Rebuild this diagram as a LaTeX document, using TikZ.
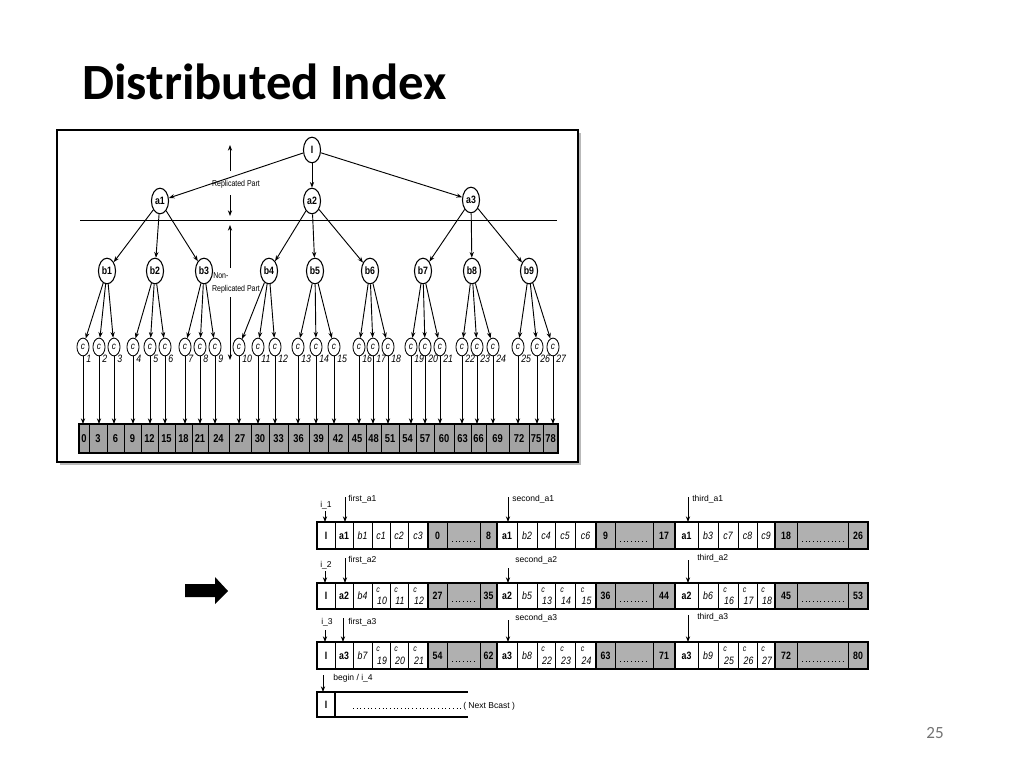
\documentclass[tikz,border=0pt]{standalone}
\usepackage{fontspec}
\setmainfont{Liberation Sans}
\newfontfamily\titlefont{Carlito}
\newfontfamily\hv[FakeStretch=0.82]{Liberation Sans}
\usetikzlibrary{shapes.geometric,arrows.meta}
\tikzset{
 tn/.style={ellipse,draw,line width=0.75pt,minimum width=12pt,minimum height=18pt,inner sep=0pt,font=\hv\bfseries\fontsize{7.5}{8}\selectfont},
 cn/.style={ellipse,draw,line width=0.6pt,minimum width=8.5pt,minimum height=12.5pt,inner sep=0pt,font=\hv\itshape\fontsize{7}{7}\selectfont},
 ed/.style={line width=0.65pt,-{Stealth[length=4pt,width=3pt]}},
 nlab/.style={font=\hv\itshape\fontsize{7.5}{8}\selectfont,anchor=west,inner sep=0pt},
 leaf/.style={draw,line width=0.5pt,fill=gray!72,inner sep=0pt,outer sep=0pt,font=\hv\bfseries\fontsize{8}{8}\selectfont},
 wc/.style={draw,line width=0.5pt,fill=white,inner sep=0pt,outer sep=0pt},
 gc/.style={draw,line width=0.5pt,fill=gray!62,inner sep=0pt,outer sep=0pt},
 bfont/.style={font=\hv\bfseries\fontsize{7.5}{8}\selectfont},
 ifont/.style={font=\hv\itshape\fontsize{7.5}{8}\selectfont},
 sfont/.style={font=\hv\fontsize{6}{7}\selectfont,inner sep=0pt},
 slab/.style={font=\fontsize{6}{7}\selectfont,inner sep=0pt,anchor=west},
}
\newcommand\mycell[7]{%
 \node[#6,minimum width={(#3-#2)*0.703pt},minimum height={(#5-#4)*0.703pt}] (#1) at ({(#2+#3)/2},{(#4+#5)/2}) {#7};}
\newcommand\ccell[6]{%
 \ifnum\r=1
  \mycell{#1}{#2}{#3}{#4}{#5}{wc,ifont}{c#6}%
 \else
  \mycell{#1}{#2}{#3}{#4}{#5}{wc}{}%
  \node[font=\hv\itshape\fontsize{6}{6}\selectfont,inner sep=0pt] (#1c) at ({(#2+#3)/2-3},{#4+7}) {c};
  \node[ifont,inner sep=0pt] (#1n) at ({(#2+#3)/2+1},{#5-8}) {#6};
 \fi}
\begin{document}
\begin{tikzpicture}[x=0.703pt,y=-0.703pt]
\useasboundingbox (0,0) rectangle (1024,768);
\fill[white] (0,0) rectangle (1024,768);
\node[anchor=base west,inner sep=0pt,font=\titlefont\bfseries\fontsize{35.7}{40}\selectfont] (title) at (82,99) {Distributed Index};
\node[font=\titlefont\fontsize{12}{14}\selectfont,text=black!55,inner sep=0pt] (pg) at (935,733) {25};

% frame
\fill[gray!55] (60,133) rectangle (581,465);
\draw[line width=1pt,fill=white] (57,130) rectangle (578,462);

% tree
\node[tn] (I) at (312,150) {I};
\node[tn] (a1) at (160,201) {a1};
\node[tn] (a2) at (312,201) {a2};
\node[tn] (a3) at (471,200) {a3};
\foreach \k in {1,2,3} \draw[ed] (I) -- (a\k);
\draw[line width=0.6pt] (80,220) -- (557,220);

\foreach \k/\x in {1/107,2/155,3/204,4/269,5/315,6/370,7/423,8/472,9/529}{
  \pgfmathtruncatemacro\p{int((\k+2)/3)}
  \node[tn] (b\k) at (\x,271) {b\k};
  \draw[ed] (a\p) -- (b\k);
}
\foreach \k/\x/\xa/\xb in {1/83/79/89,2/99/89/107,3/114/107/124,4/133/124/141,5/150/141/158,6/165/158/175,7/185/175/192,8/200/192/208,9/215/208/229,10/239/229/251,11/258/251/269,12/275/269/288,13/298/288/309,14/316/309/328,15/334/328/348,16/359/348/366,17/373/366/381,18/388/381/399,19/411/399/416,20/425/416/434,21/440/434/454,22/462/454/471,23/477/471/486,24/493/486/509,25/518/509/529,26/537/529/543,27/553/543/558}{
  \pgfmathtruncatemacro\p{int((\k+2)/3)}
  \pgfmathtruncatemacro\v{3*(\k-1)}
  \node[cn] (c\k) at (\x,347) {c};
  \node[nlab] (n\k) at (\x+3,359) {\k};
  \draw[ed] (b\p) -- (c\k);
  \mycell{l\k}{\xa}{\xb}{424}{453}{leaf}{\v}
  \draw[ed] (c\k) -- (c\k |- l\k.north);
}
\draw[line width=1pt] (79,424) rectangle (558,453);

% replicated / non-replicated marks
\coordinate (m1) at (230,171); \coordinate (m1t) at (230,145);
\draw[ed] (m1) -- (m1t);
\node[sfont] (rp) at (236,184) {Replicated Part};
\coordinate (m2) at (230,195); \coordinate (m2t) at (230,216);
\draw[ed] (m2) -- (m2t);
\coordinate (m3) at (230,268); \coordinate (m3t) at (230,225);
\draw[ed] (m3) -- (m3t);
\node[sfont,anchor=west] (non) at (213,276) {Non-};
\node[sfont] (nrp) at (236,289) {Replicated Part};
\coordinate (m4) at (230,297); \coordinate (m4t) at (230,360);
\draw[ed] (m4) -- (m4t);

% big arrow
\fill (185,584) -- (215,584) -- (215,577) -- (228,591) -- (215,604) -- (215,597) -- (185,597) -- cycle;

% broadcast rows
\foreach \r/\ya/\yb in {1/522/549,2/583/609,3/642/669}{
  \mycell{r\r i}{317}{335}{\ya}{\yb}{wc,bfont}{I}
  \foreach \g/\xa/\xb/\xc/\xd/\xe/\xf/\xg/\xh/\xi in {1/335/353/372/390/408/428/447/480/497,2/497/517/537/555/575/596/615/653/675,3/675/698/718/738/757/775/797/848/868}{
    \pgfmathtruncatemacro\bn{3*(\r-1)+\g}
    \pgfmathtruncatemacro\cA{9*(\r-1)+3*(\g-1)+1}
    \pgfmathtruncatemacro\cB{\cA+1}
    \pgfmathtruncatemacro\cC{\cA+2}
    \pgfmathtruncatemacro\gs{27*(\r-1)+9*(\g-1)}
    \pgfmathtruncatemacro\gE{\gs+8}
    \mycell{r\r a\g}{\xa}{\xb}{\ya}{\yb}{wc,bfont}{a\r}
    \mycell{r\r b\g}{\xb}{\xc}{\ya}{\yb}{wc,ifont}{b\bn}
    \ccell{r\r x\g a}{\xc}{\xd}{\ya}{\yb}{\cA}
    \ccell{r\r x\g b}{\xd}{\xe}{\ya}{\yb}{\cB}
    \ccell{r\r x\g c}{\xe}{\xf}{\ya}{\yb}{\cC}
    \mycell{r\r g\g s}{\xf}{\xg}{\ya}{\yb}{gc,bfont}{\gs}
    \mycell{r\r g\g m}{\xg}{\xh}{\ya}{\yb}{gc}{}
    \mycell{r\r g\g e}{\xh}{\xi}{\ya}{\yb}{gc,bfont}{\gE}
    \draw[dotted,line width=0.6pt] ({\xg+5},{\yb-8}) -- ({\xh-5},{\yb-8});
    \draw[line width=1.1pt] (\xf,\ya) rectangle (\xi,\yb);
  }
  \draw[line width=1.3pt] (317,\yb) -- (317,\ya) -- (868,\ya) -- (868,\yb) -- cycle;
}

% pointers row 1
\coordinate (p1i) at (325,511); \node[slab,anchor=center] (t1i) at (326,505) {i\_1};
\draw[ed] (p1i) -- (p1i |- r1i.north);
\coordinate (p1f) at (345,497); \node[slab] (t1f) at (348,499) {first\_a1};
\draw[ed] (p1f) -- (p1f |- r1a1.north);
\coordinate (p1s) at (508,497); \node[slab] (t1s) at (512,499) {second\_a1};
\draw[ed] (p1s) -- (p1s |- r1a2.north);
\coordinate (p1t) at (688,497); \node[slab] (t1t) at (692,499) {third\_a1};
\draw[ed] (p1t) -- (p1t |- r1a3.north);
% row 2
\coordinate (p2i) at (325,571); \node[slab,anchor=center] (t2i) at (326,565) {i\_2};
\draw[ed] (p2i) -- (p2i |- r2i.north);
\coordinate (p2f) at (345,558); \node[slab] (t2f) at (348,560) {first\_a2};
\draw[ed] (p2f) -- (p2f |- r2a1.north);
\coordinate (p2s) at (508,568); \node[slab] (t2s) at (515,560) {second\_a2};
\draw[ed] (p2s) -- (p2s |- r2a2.north);
\coordinate (p2t) at (688,560); \node[slab] (t2t) at (697,558) {third\_a2};
\draw[ed] (p2t) -- (p2t |- r2a3.north);
% row 3
\coordinate (p3i) at (325,630); \node[slab,anchor=center] (t3i) at (327,622) {i\_3};
\draw[ed] (p3i) -- (p3i |- r3i.north);
\coordinate (p3f) at (343,618); \node[slab] (t3f) at (348,622) {first\_a3};
\draw[ed] (p3f) -- (p3f |- r3a1.north);
\coordinate (p3s) at (508,620); \node[slab] (t3s) at (515,618) {second\_a3};
\draw[ed] (p3s) -- (p3s |- r3a2.north);
\coordinate (p3t) at (688,615); \node[slab] (t3t) at (697,617) {third\_a3};
\draw[ed] (p3t) -- (p3t |- r3a3.north);

% row 4
\mycell{r4i}{317}{335}{692}{717}{wc,bfont,line width=1.1pt}{I}
\draw[line width=1.3pt] (335,692) -- (468,692);
\draw[line width=1.3pt] (335,717) -- (468,717);
\coordinate (p4i) at (323,675); \node[slab] (t4i) at (333,678) {begin / i\_4};
\draw[ed] (p4i) -- (p4i |- r4i.north);
\coordinate (d4a) at (353,708); \coordinate (d4b) at (463,708);
\draw[dotted,line width=0.6pt] (d4a) -- (d4b);
\node[slab] (nb) at (463,706) {( Next Bcast )};
\end{tikzpicture}
\end{document}
